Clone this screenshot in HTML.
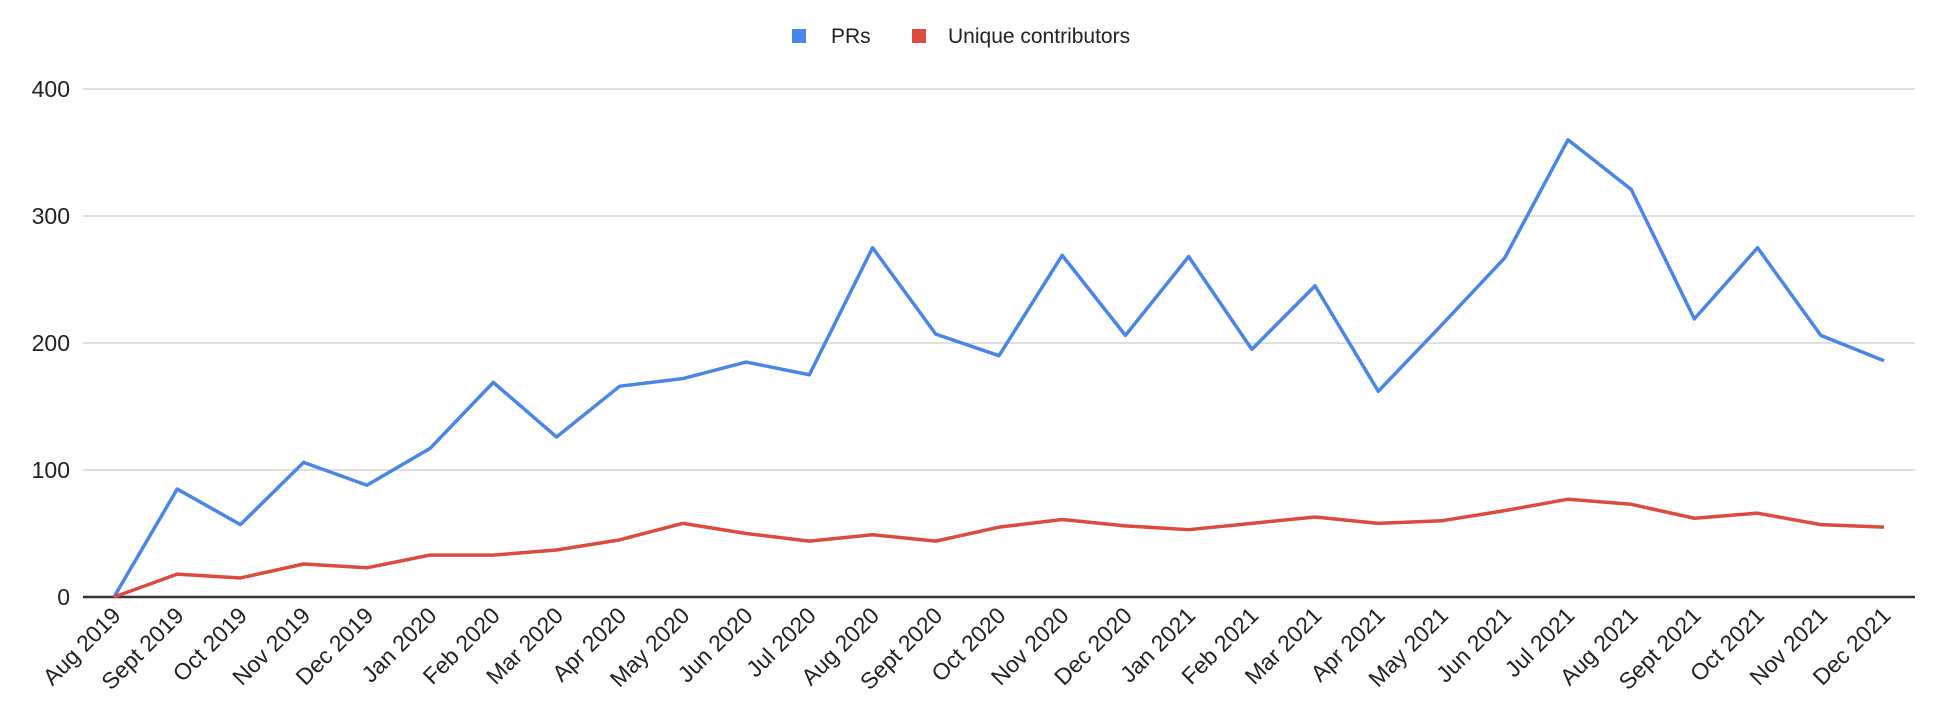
<!DOCTYPE html>
<html><head><meta charset="utf-8"><style>
html,body{margin:0;padding:0;background:#fff;}
svg{display:block;font-family:"Liberation Sans",Arial,sans-serif;}
</style></head><body>
<svg id="chart" width="1940" height="718" xmlns="http://www.w3.org/2000/svg">
<g>
<rect x="792" y="29" width="14" height="14" fill="#4a86e8"/>
<text x="831" y="43" font-size="21" fill="#222">PRs</text>
<rect x="912" y="29" width="14" height="14" fill="#db4b3e"/>
<text x="948" y="43" font-size="21" fill="#222">Unique contributors</text>
</g>
<g id="grid"></g><g id="yt"></g><g id="xt"></g><g id="lines"></g>
</svg>
<script>
const categories=["Aug 2019","Sept 2019","Oct 2019","Nov 2019","Dec 2019","Jan 2020","Feb 2020","Mar 2020","Apr 2020","May 2020","Jun 2020","Jul 2020","Aug 2020","Sept 2020","Oct 2020","Nov 2020","Dec 2020","Jan 2021","Feb 2021","Mar 2021","Apr 2021","May 2021","Jun 2021","Jul 2021","Aug 2021","Sept 2021","Oct 2021","Nov 2021","Dec 2021"];
const prs=[0,85,57,106,88,117,169,126,166,172,185,175,275,207,190,269,206,268,195,245,162,214,267,360,321,219,275,206,186];
const contributors=[0,18,15,26,23,33,33,37,45,58,50,44,49,44,55,61,56,53,58,63,58,60,68,77,73,62,66,57,55];
const yTicks=[0,100,200,300,400];
const NS="http://www.w3.org/2000/svg";
const X0=114,X1=1884,L=83,R=1915,Y0=597,Y1=89,YMAX=400;
const x=i=>X0+(X1-X0)*i/(categories.length-1);
const y=v=>Y0-(Y0-Y1)*v/YMAX;
function mk(t,a,p){const e=document.createElementNS(NS,t);for(const k in a)e.setAttribute(k,a[k]);p.appendChild(e);return e;}
const grid=document.getElementById('grid'),yt=document.getElementById('yt'),xt=document.getElementById('xt'),lines=document.getElementById('lines');
yTicks.forEach(v=>{
  const g=mk('line',{x1:L,x2:R,y1:y(v),y2:y(v),stroke:v===0?'#333':'#ccc','stroke-width':v===0?2.5:1.3},grid);
  
  
  const t=mk('text',{x:70,y:y(v)+8,'text-anchor':'end','font-size':23,fill:'#222'},yt);
  t.textContent=v;
  
  
});
categories.forEach((c,i)=>{
  const t=mk('text',{transform:`translate(${x(i)+8},${Y0+20}) rotate(-45)`,'text-anchor':'end','font-size':23,fill:'#222'},xt);
  t.textContent=c;
  
  
});
function series(data,color,name){
  const p=mk('polyline',{points:data.map((v,i)=>x(i)+','+y(v)).join(' '),fill:'none',stroke:color,'stroke-width':3.5,'stroke-linejoin':'round'},lines);
  
  
}
series(prs,'#4a86e8','prs-line');
series(contributors,'#db4b3e','contributors-line');
</script>
</body></html>
